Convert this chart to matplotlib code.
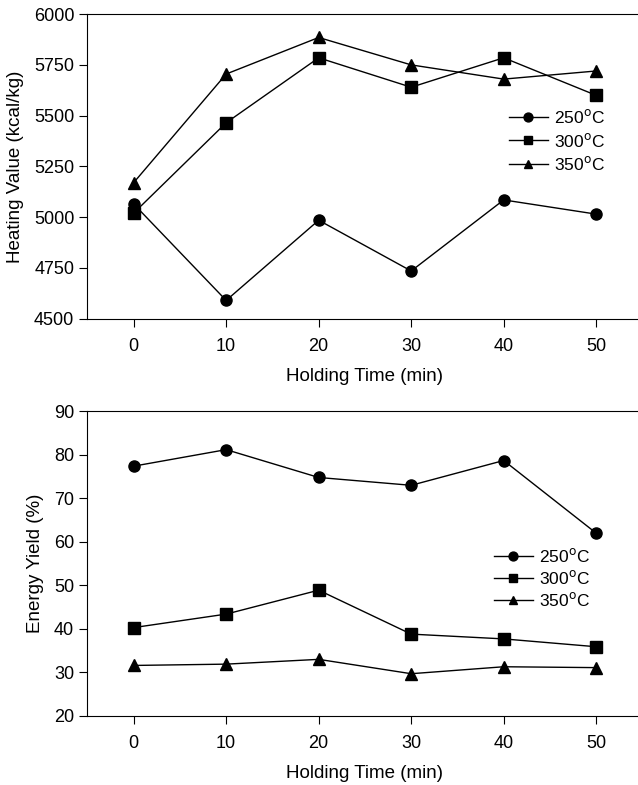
import numpy as np
import matplotlib.pyplot as plt

plt.rcParams['font.family'] = ['Liberation Sans', 'DejaVu Sans']

# holding time (min)
time = [0, 10, 20, 30, 40, 50]
labels = ['250$^{\\rm o}$C', '300$^{\\rm o}$C', '350$^{\\rm o}$C']
markers = ['o', 's', '^']

# heating value (kcal/kg)
hv_250 = [5065, 4590, 4985, 4735, 5085, 5015]
hv_300 = [5020, 5465, 5785, 5640, 5785, 5600]
hv_350 = [5170, 5705, 5885, 5750, 5680, 5720]

# energy yield (%)
ey_250 = [77.4, 81.2, 74.8, 73.0, 78.7, 62.0]
ey_300 = [40.3, 43.4, 48.9, 38.8, 37.7, 35.9]
ey_350 = [31.6, 31.9, 33.0, 29.7, 31.3, 31.1]

fig = plt.figure(figsize=(6.38, 7.85), dpi=100)
ax1 = fig.add_axes([0.137, 0.594, 0.87, 0.388])
ax2 = fig.add_axes([0.137, 0.088, 0.87, 0.388])


def draw(ax, series, ylim, yticks, ylabel, legend_pos, spacing):
    for ys, m, lab in zip(series, markers, labels):
        ax.plot(time, ys, color='black', lw=1, marker=m, ms=8, label=lab)
    ax.set_xlim(-5, 55)
    ax.set_ylim(*ylim)
    ax.set_xticks(time)
    ax.set_yticks(yticks)
    ax.spines['right'].set_visible(False)
    ax.tick_params(direction='out', length=6, labelsize=13)
    ax.tick_params(axis='x', pad=8)
    ax.set_xlabel('Holding Time (min)', fontsize=13.5, labelpad=9)
    ax.set_ylabel(ylabel, fontsize=13.5, labelpad=7)
    ax.legend(frameon=False, fontsize=12.5, loc='upper left',
              bbox_to_anchor=legend_pos, handlelength=2.2, markerscale=0.8,
              handletextpad=0.4, labelspacing=spacing)


draw(ax1, [hv_250, hv_300, hv_350], (4500, 6000),
     np.arange(4500, 6001, 250), 'Heating Value (kcal/kg)', (0.732, 0.742), 0.3)
draw(ax2, [ey_250, ey_300, ey_350], (20, 90),
     np.arange(20, 91, 10), 'Energy Yield (%)', (0.705, 0.607), 0.25)

fig.savefig('out.png', dpi=100)
